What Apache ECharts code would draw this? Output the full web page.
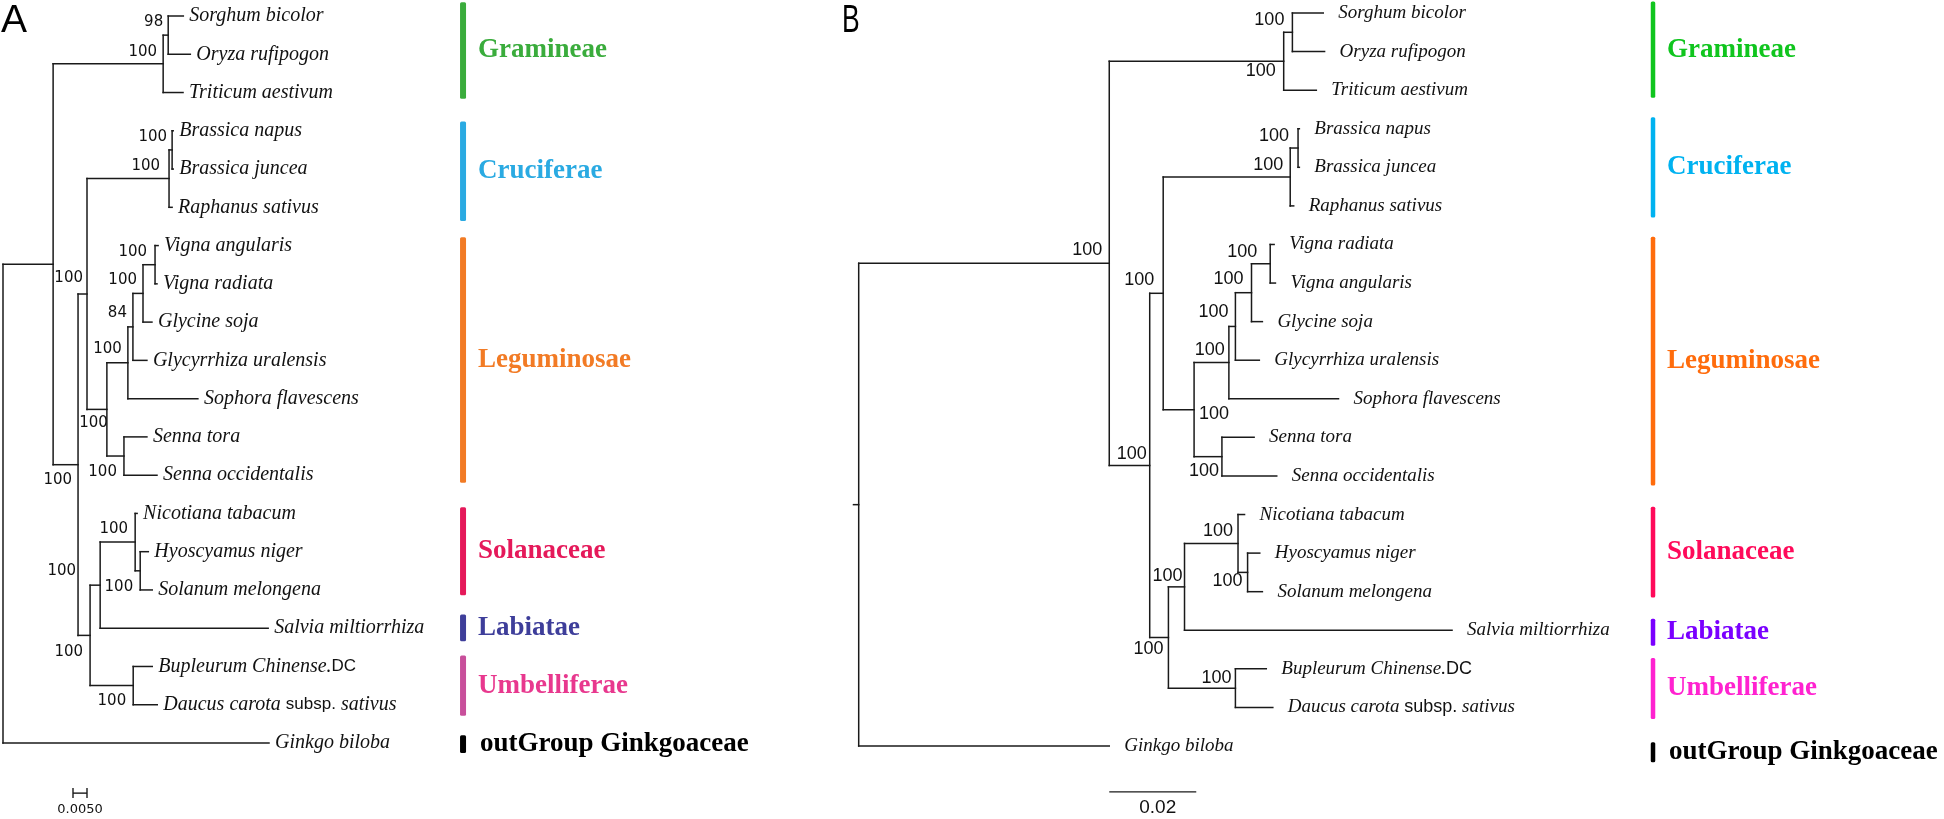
<!DOCTYPE html>
<html>
<head>
<meta charset="utf-8">
<title>Phylogenetic trees A / B</title>
<script src="https://cdn.jsdelivr.net/npm/echarts@6/dist/echarts.min.js"></script>
<style>
  html, body { margin: 0; padding: 0; background: #fff; }
  #main { width: 1944px; height: 819px; }
</style>
</head>
<body>
<div id="main"></div>
<script>
// ---------- data: panel A ----------
// tips top to bottom: [name, parent clade, branch length]
const tipsA = [
  ['Sorghum bicolor', 'SO', 0.0054],
  ['Oryza rufipogon', 'SO', 0.0079],
  ['Triticum aestivum', 'Gram', 0.0071],
  ['Brassica napus', 'BB', 0.0004],
  ['Brassica juncea', 'BB', 0.0004],
  ['Raphanus sativus', 'Cruc', 0.0011],
  ['Vigna angularis', 'Vig', 0.0011],
  ['Vigna radiata', 'Vig', 0.0007],
  ['Glycine soja', 'P3', 0.0032],
  ['Glycyrrhiza uralensis', 'P2', 0.0050],
  ['Sophora flavescens', 'Pap', 0.0250],
  ['Senna tora', 'Sen', 0.0082],
  ['Senna occidentalis', 'Sen', 0.0118],
  ['Nicotiana tabacum', 'Sol', 0.0007],
  ['Hyoscyamus niger', 'HS', 0.0029],
  ['Solanum melongena', 'HS', 0.0043],
  ['Salvia miltiorrhiza', 'SL', 0.0600],
  ['Bupleurum Chinense.DC', 'Umb', 0.0068],
  ['Daucus carota subsp. sativus', 'Umb', 0.0086],
  ['Ginkgo biloba', 'R', 0.0950]
];
// clades: [id, parent, branch length, bootstrap]
const cladesA = [
  ['R', null, 0, null],
  ['In', 'R', 0.0179, null],
  ['Gram', 'In', 0.0393, 100],
  ['SO', 'Gram', 0.0018, 98],
  ['Rest', 'In', 0.0089, 100],
  ['CL', 'Rest', 0.0032, 100],
  ['Cruc', 'CL', 0.0293, 100],
  ['BB', 'Cruc', 0.0011, 100],
  ['Leg', 'CL', 0.0071, 100],
  ['Pap', 'Leg', 0.0075, 100],
  ['P2', 'Pap', 0.0018, 84],
  ['P3', 'P2', 0.0036, 100],
  ['Vig', 'P3', 0.0043, 100],
  ['Sen', 'Leg', 0.0061, 100],
  ['SLU', 'Rest', 0.0043, 100],
  ['SL', 'SLU', 0.0036, 100],
  ['Sol', 'SL', 0.0125, 100],
  ['HS', 'Sol', 0.0018, 100],
  ['Umb', 'SLU', 0.0154, 100]
];

// ---------- data: panel B ----------
const tipsB = [
  ['Sorghum bicolor', 'SO', 0.0071],
  ['Oryza rufipogon', 'SO', 0.0074],
  ['Triticum aestivum', 'Gram', 0.0075],
  ['Brassica napus', 'BB', 0.0003],
  ['Brassica juncea', 'BB', 0.0003],
  ['Raphanus sativus', 'Cruc', 0.0008],
  ['Vigna radiata', 'Vig', 0.0009],
  ['Vigna angularis', 'Vig', 0.0012],
  ['Glycine soja', 'P3', 0.0025],
  ['Glycyrrhiza uralensis', 'P2', 0.0055],
  ['Sophora flavescens', 'Pap', 0.0252],
  ['Senna tora', 'Sen', 0.0074],
  ['Senna occidentalis', 'Sen', 0.0126],
  ['Nicotiana tabacum', 'Sol', 0.0015],
  ['Hyoscyamus niger', 'HS', 0.0028],
  ['Solanum melongena', 'HS', 0.0034],
  ['Salvia miltiorrhiza', 'SL', 0.0615],
  ['Bupleurum Chinense.DC', 'Umb', 0.0071],
  ['Daucus carota subsp. sativus', 'Umb', 0.0086],
  ['Ginkgo biloba', 'R', 0.0576]
];
const cladesB = [
  ['R', null, 0, null],
  ['In', 'R', 0.0576, 100],
  ['Gram', 'In', 0.0401, 100],
  ['SO', 'Gram', 0.0020, 100],
  ['Rest', 'In', 0.0093, 100],
  ['CL', 'Rest', 0.0031, 100],
  ['Cruc', 'CL', 0.0292, 100],
  ['BB', 'Cruc', 0.0018, 100],
  ['Leg', 'CL', 0.0071, 100],
  ['Pap', 'Leg', 0.0080, 100],
  ['P2', 'Pap', 0.0015, 100],
  ['P3', 'P2', 0.0037, 100],
  ['Vig', 'P3', 0.0043, 100],
  ['Sen', 'Leg', 0.0064, 100],
  ['SLU', 'Rest', 0.0043, 100],
  ['SL', 'SLU', 0.0037, 100],
  ['Sol', 'SL', 0.0123, 100],
  ['HS', 'Sol', 0.0022, 100],
  ['Umb', 'SLU', 0.0154, 100]
];
const rootStubB = 0.0012;

// families (tip index ranges, same order in both trees)
const families = ['Gramineae', 'Cruciferae', 'Leguminosae', 'Solanaceae', 'Labiatae', 'Umbelliferae', 'outGroup Ginkgoaceae'];
const familyFirst = [0, 3, 6, 13, 16, 17, 19];
const familyLast = [2, 5, 12, 15, 16, 18, 19];

// scale bars
const scaleLenA = 0.005, scaleTextA = '0.0050';
const scaleLenB = 0.02, scaleTextB = '0.02';

// ---------- style / placement ----------
const colorsA = ['#3aac3c', '#2aaae2', '#f27b25', '#e5195a', '#3e3e9a', '#e8388e', '#000'];
const barColorsA = ['#3aac3c', '#2aaae2', '#f27b25', '#e5195a', '#3e3e9a', '#c84f9b', '#000'];
const colorsB = ['#10c51e', '#00b2f0', '#ff6c0c', '#ff0a5a', '#7a00ff', '#ff22d0', '#000'];
const padTop = [0.36, 0.24, 0.22, 0.16, 0.36, 0.29, 0.2];
const padBot = [0.16, 0.36, 0.2, 0.14, 0.34, 0.29, 0.26];
const padTopB = [0.3, 0.3, 0.2, 0.2, 0.3, 0.28, 0.1];
const padBotB = [0.2, 0.3, 0.25, 0.15, 0.4, 0.3, 0.42];

// bootstrap label offsets (px from node, right-aligned unless 3rd item)
const supOffA = {
  SO: [-5, -13], Gram: [-6, -12], Rest: [-6, 15], CL: [-4, -16], Cruc: [-9, -13], BB: [-5, -13],
  Leg: [1, 14], Pap: [-6, -14], P2: [-6, -14], P3: [-6, -13], Vig: [-8, -13], Sen: [-7, 16],
  SLU: [-7, 17], SL: [-24, -14], Sol: [-7, -13], HS: [-7, 16], Umb: [-7, 16]
};
const supOffB = {
  In: [-7, -13], SO: [-8, -12], Gram: [-8, 10], Rest: [-3, -11], CL: [-9, -13], Cruc: [-7, -12],
  BB: [-9, -12], Leg: [5, 4, 'left'], Pap: [-4, -13], P2: [-7, -14], P3: [-8, -14], Vig: [-13, -12],
  Sen: [-3, 14], SLU: [-5, 12], SL: [-2, -11], Sol: [-5, -12], HS: [-5, 9], Umb: [-4, -10]
};

function buildTree(tips, clades, stub) {
  const byId = {};
  clades.forEach(function (c) { byId[c[0]] = { id: c[0], parent: c[1], len: c[2], support: c[3], kids: [] }; });
  clades.forEach(function (c) { if (c[1]) byId[c[1]].kids.push(byId[c[0]]); });
  const tipNodes = tips.map(function (t, i) { return { name: t[0], parent: t[1], len: t[2], y: i, tip: true }; });
  tipNodes.forEach(function (t) { byId[t.parent].kids.push(t); });
  const root = byId[clades[0][0]];
  function setX(n, x0) { n.x = x0 + n.len; if (!n.tip) n.kids.forEach(function (k) { setX(k, n.x); }); }
  function setY(n) {
    if (n.tip) return n.y;
    const ys = n.kids.map(setY);
    n.y0 = Math.min.apply(null, ys); n.y1 = Math.max.apply(null, ys);
    n.y = (n.y0 + n.y1) / 2;
    return n.y;
  }
  setX(root, 0); setY(root);
  const segs = [];
  if (stub) segs.push([-stub, root.y, 0, root.y]);
  function walk(n, px) {
    if (px != null) segs.push([px, n.y, n.x, n.y]);
    if (!n.tip) { segs.push([n.x, n.y0, n.x, n.y1]); n.kids.forEach(function (k) { walk(k, n.x); }); }
  }
  walk(root, null);
  const sups = [];
  clades.forEach(function (c) { const n = byId[c[0]]; if (n.support != null) sups.push([n.x, n.y, n.support, n.id]); });
  return { segs: segs, tips: tipNodes.map(function (t) { return [t.x, t.y, t.name]; }), sups: sups };
}

const treeA = buildTree(tipsA, cladesA, 0);
const treeB = buildTree(tipsB, cladesB, rootStubB);

function tipText(name) {
  if (name.indexOf(' subsp. ') > 0) {
    const p = name.split(' subsp. ');
    return '{i|' + p[0] + ' }{n|subsp.}{i| ' + p[1] + '}';
  }
  if (/\.DC$/.test(name)) return '{i|' + name.slice(0, -2) + '}{n|DC}';
  return '{i|' + name + '}';
}

// one panel's series
function panelSeries(idx, tree, cfg) {
  const ax = { xAxisIndex: idx, yAxisIndex: idx, coordinateSystem: 'cartesian2d', silent: true, clip: false };
  const out = [];
  out.push(Object.assign({
    type: 'custom', name: 'branches' + idx, data: tree.segs, encode: { x: [0, 2], y: [1, 3] },
    renderItem: function (params, api) {
      const a = api.coord([api.value(0), api.value(1)]);
      const b = api.coord([api.value(2), api.value(3)]);
      return { type: 'line', shape: { x1: a[0], y1: a[1], x2: b[0], y2: b[1] },
        style: { stroke: '#1a1a1a', lineWidth: cfg.lw, lineCap: 'square' } };
    }
  }, ax));
  out.push(Object.assign({
    type: 'custom', name: 'tips' + idx, data: tree.tips, encode: { x: 0, y: 1 },
    renderItem: function (params, api) {
      const p = api.coord([api.value(0), api.value(1)]);
      return { type: 'text', x: p[0] + cfg.tipGap, y: p[1],
        style: { text: tipText(tree.tips[params.dataIndex][2]), verticalAlign: 'middle', align: 'left',
          rich: {
            i: { fontFamily: 'Liberation Serif', fontStyle: 'italic', fontSize: cfg.tipSize, fill: '#111' },
            n: { fontFamily: 'Liberation Sans', fontSize: cfg.nSize, fill: '#111' }
          } } };
    }
  }, ax));
  out.push(Object.assign({
    type: 'custom', name: 'support' + idx, data: tree.sups, encode: { x: 0, y: 1 },
    renderItem: function (params, api) {
      const s = tree.sups[params.dataIndex];
      const p = api.coord([s[0], s[1]]);
      const off = cfg.supOff[s[3]] || [-6, -13];
      return { type: 'text', x: p[0] + off[0], y: p[1] + off[1],
        style: { text: String(s[2]), align: off[2] || 'right', verticalAlign: 'middle',
          fontFamily: cfg.supFont, fontSize: cfg.supSize, fill: '#111' } };
    }
  }, ax));
  const famData = families.map(function (f, i) {
    return [cfg.famX, familyFirst[i] - cfg.padTop[i], familyLast[i] + cfg.padBot[i], i];
  });
  out.push(Object.assign({
    type: 'custom', name: 'families' + idx, data: famData, encode: { x: 0, y: [1, 2] },
    renderItem: function (params, api) {
      const i = api.value(3);
      const a = api.coord([api.value(0), api.value(1)]);
      const b = api.coord([api.value(0), api.value(2)]);
      return { type: 'group', children: [
        { type: 'rect', shape: { x: a[0] - cfg.barW / 2, y: a[1], width: cfg.barW, height: b[1] - a[1], r: 1.5 },
          style: { fill: cfg.barColors[i] } },
        { type: 'text', x: a[0] + cfg.famGap + (i === 6 ? 2 : 0), y: (a[1] + b[1]) / 2,
          style: { text: families[i], fontFamily: 'Liberation Serif', fontWeight: 'bold', fontSize: 27,
            fill: cfg.colors[i], verticalAlign: 'middle', align: 'left' } }
      ] };
    }
  }, ax));
  out.push(Object.assign({
    type: 'custom', name: 'scale' + idx, data: [[cfg.scaleX, cfg.scaleY, cfg.scaleLen]], encode: { x: 0, y: 1 },
    renderItem: function (params, api) {
      const a = api.coord([api.value(0), api.value(1)]);
      const b = api.coord([api.value(0) + api.value(2), api.value(1)]);
      const kids = [
        { type: 'line', shape: { x1: a[0], y1: a[1], x2: b[0], y2: b[1] }, style: { stroke: '#1a1a1a', lineWidth: 1.4 } },
        { type: 'text', x: (a[0] + b[0]) / 2 + cfg.scaleTextDx, y: a[1] + cfg.scaleTextDy,
          style: { text: cfg.scaleText, align: 'center', verticalAlign: 'middle', fontFamily: cfg.supFont,
            fontSize: cfg.scaleFont, fill: '#111' } }
      ];
      if (cfg.caps) {
        kids.push({ type: 'line', shape: { x1: a[0], y1: a[1] - 5, x2: a[0], y2: a[1] + 5 }, style: { stroke: '#1a1a1a', lineWidth: 1.4 } });
        kids.push({ type: 'line', shape: { x1: b[0], y1: b[1] - 5, x2: b[0], y2: b[1] + 5 }, style: { stroke: '#1a1a1a', lineWidth: 1.4 } });
      }
      return { type: 'group', children: kids };
    }
  }, ax));
  return out;
}

const cfgA = {
  lw: 1.5, tipGap: 6, tipSize: 20, nSize: 17, supOff: supOffA, supFont: 'DejaVu Sans', supSize: 15,
  famX: 0.1643, barW: 6, famGap: 15, colors: colorsA, barColors: barColorsA, padTop: padTop, padBot: padBot,
  scaleX: 0.025, scaleY: 20.31, scaleLen: scaleLenA, scaleText: scaleTextA, scaleTextDx: 0, scaleTextDy: 17, scaleFont: 13, caps: true
};
const cfgB = {
  lw: 1.5, tipGap: 15, tipSize: 19, nSize: 18, supOff: supOffB, supFont: 'Liberation Sans', supSize: 18,
  famX: 0.1826, barW: 4.5, famGap: 14, colors: colorsB, barColors: colorsB, padTop: padTopB, padBot: padBotB,
  scaleX: 0.0576, scaleY: 20.19, scaleLen: scaleLenB, scaleText: scaleTextB, scaleTextDx: 5, scaleTextDy: 16, scaleFont: 19, caps: false
};

const chart = echarts.init(document.getElementById('main'), null, { renderer: 'canvas' });
chart.setOption({
  animation: false,
  backgroundColor: '#fff',
  grid: [
    { left: 3, top: 16, width: 560, height: 727 },
    { left: 858.7, top: 13, width: 870, height: 733 }
  ],
  xAxis: [
    { type: 'value', gridIndex: 0, min: 0, max: 0.2, show: false },
    { type: 'value', gridIndex: 1, min: 0, max: 0.2, show: false }
  ],
  yAxis: [
    { type: 'value', gridIndex: 0, min: 0, max: 19, inverse: true, show: false },
    { type: 'value', gridIndex: 1, min: 0, max: 19, inverse: true, show: false }
  ],
  graphic: [
    { type: 'text', left: 1, top: 2, style: { text: 'A', fontFamily: 'Liberation Sans', fontSize: 39, fill: '#000' } },
    { type: 'text', x: 842, y: 2, scaleX: 0.68, style: { text: 'B', fontFamily: 'Liberation Sans', fontSize: 39, fill: '#000' } }
  ],
  series: panelSeries(0, treeA, cfgA).concat(panelSeries(1, treeB, cfgB))
});
</script>
</body>
</html>
